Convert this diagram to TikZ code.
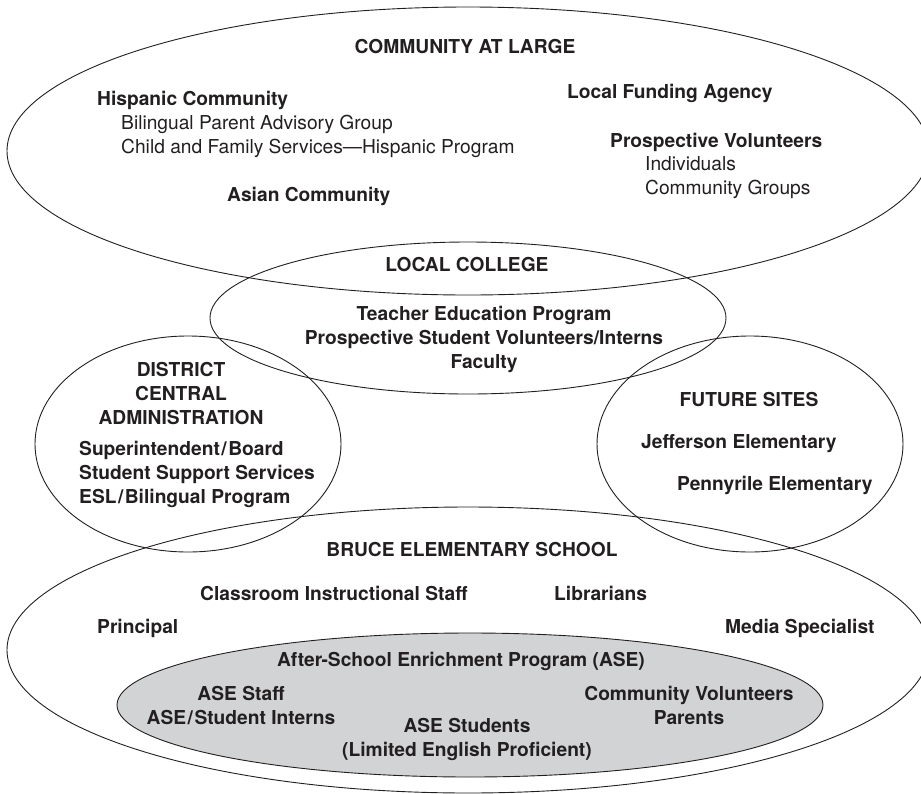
\documentclass[tikz,border=0pt]{standalone}
\usepackage{fontspec}
\setmainfont{TeX Gyre Heros}
\usetikzlibrary{shapes.geometric}
\definecolor{asegray}{HTML}{D1D3D4}
\definecolor{inkc}{HTML}{231F20}
\begin{document}
\begin{tikzpicture}[x=1pt,y=-1pt,
  ring/.style={draw=inkc, line width=0.9pt, ellipse, inner sep=0pt},
  bt/.style={font=\fontsize{19.2}{24}\selectfont\bfseries, text=inkc, inner sep=0pt},
  rt/.style={font=\fontsize{19.2}{24}\selectfont, text=inkc, inner sep=0pt}]
\useasboundingbox (0,0) rectangle (921,793);
\clip (0,0) rectangle (921,793);
% ellipses
\node[ring, minimum width=922pt, minimum height=288pt] (cal) at (468,151) {};
\node[ring, minimum width=516pt, minimum height=152pt] (col) at (468,318) {};
\node[ring, minimum width=306pt, minimum height=216pt] (dca) at (188,444) {};
\node[ring, minimum width=306pt, minimum height=216pt] (fut) at (750,444) {};
\node[ring, minimum width=922pt, minimum height=286pt] (bes) at (468,650) {};
\node[ring, fill=asegray, minimum width=706pt, minimum height=144pt] (ase) at (470,705) {};
% community at large
\node[bt, anchor=base] (calt) at (465,53) {COMMUNITY AT LARGE};
\node[bt, anchor=base west] (hisp) at (97,105) {Hispanic Community};
\node[rt, anchor=base west] (bpag) at (121,129) {Bilingual Parent Advisory Group};
\node[rt, anchor=base west] (cfs) at (121,153) {Child and Family Services—Hispanic Program};
\node[bt, anchor=base west] (asian) at (227,201) {Asian Community};
\node[bt, anchor=base west] (lfa) at (567,98) {Local Funding Agency};
\node[bt, anchor=base west] (pv) at (610,147) {Prospective Volunteers};
\node[rt, anchor=base west] (ind) at (645,170) {Individuals};
\node[rt, anchor=base west] (cg) at (645,194) {Community Groups};
% local college
\node[bt, anchor=base] (colt) at (467,271) {LOCAL COLLEGE};
\node[bt, anchor=base] (tep) at (484,320) {Teacher Education Program};
\node[bt, anchor=base] (psv) at (484,344) {Prospective Student Volunteers/Interns};
\node[bt, anchor=base] (fac) at (484,368) {Faculty};
% district central administration
\node[bt, anchor=base] (d1) at (181,376) {DISTRICT};
\node[bt, anchor=base] (d2) at (181,400) {CENTRAL};
\node[bt, anchor=base] (d3) at (181,424) {ADMINISTRATION};
\node[bt, anchor=base west] (sup) at (79,455) {Superintendent\kern1.5pt/\kern1.5pt Board};
\node[bt, anchor=base west] (sss) at (79,479) {Student Support Services};
\node[bt, anchor=base west] (esl) at (79,503) {ESL\kern1.5pt/\kern1.5pt Bilingual Program};
% future sites
\node[bt, anchor=base] (fst) at (749,406) {FUTURE SITES};
\node[bt, anchor=base west] (jef) at (641,448) {Jefferson Elementary};
\node[bt, anchor=base west] (pen) at (677,490) {Pennyrile Elementary};
% bruce elementary
\node[bt, anchor=base] (best) at (472,556) {BRUCE ELEMENTARY SCHOOL};
\node[bt, anchor=base west] (cis) at (200,600) {Classroom Instructional Staff};
\node[bt, anchor=base west] (lib) at (554,600) {Librarians};
\node[bt, anchor=base west] (pri) at (97,633) {Principal};
\node[bt, anchor=base west] (med) at (725,633) {Media Specialist};
% ASE
\node[bt, anchor=base] (aset) at (461,666) {After-School Enrichment Program (ASE)};
\node[bt, anchor=base] (as1) at (241,700) {ASE Staff};
\node[bt, anchor=base] (as2) at (241,724) {ASE\kern1.5pt/\kern1.5pt Student Interns};
\node[bt, anchor=base] (st1) at (467,732) {ASE Students};
\node[bt, anchor=base] (st2) at (467,756) {(Limited English Proficient)};
\node[bt, anchor=base] (cv1) at (689,700) {Community Volunteers};
\node[bt, anchor=base] (cv2) at (689,724) {Parents};
\end{tikzpicture}
\end{document}
